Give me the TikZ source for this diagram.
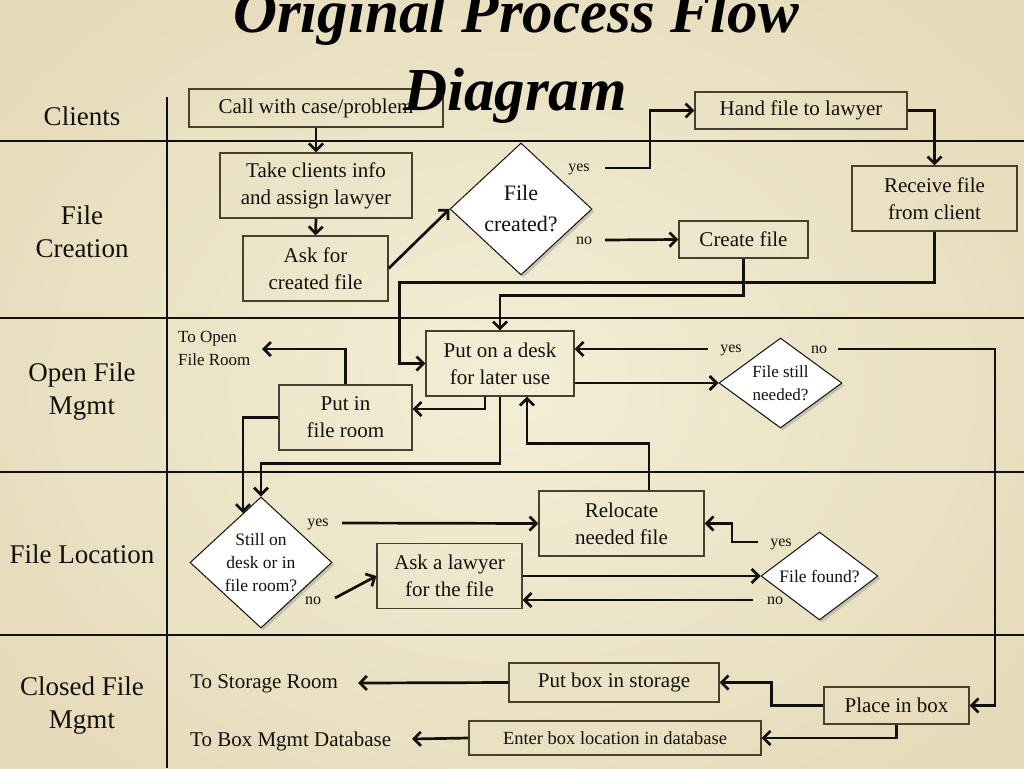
\documentclass[tikz,border=0pt]{standalone}
\usepackage{fontspec}
\setmainfont{Liberation Serif}
\usetikzlibrary{arrows.meta,shapes.geometric,shadows,calc}
\definecolor{paper}{RGB}{243,238,214}
\definecolor{paperdark}{RGB}{230,219,186}
\definecolor{ink}{RGB}{18,16,12}
\definecolor{boxline}{RGB}{72,64,46}
\begin{document}
\begin{tikzpicture}[x=1pt,y=-1pt,
  box/.style={draw=boxline, line width=1.2pt, inner sep=0pt, align=center,
    font=\fontsize{21}{27}\selectfont, text=ink},
  dia/.style={diamond, draw=ink, line width=1pt, fill=white, inner sep=0pt,
    drop shadow={shadow xshift=2.5pt, shadow yshift=-2.5pt, opacity=0.35}},
  dtext/.style={align=center, inner sep=0pt, text=ink},
  lanelabel/.style={align=center, font=\fontsize{27}{33}\selectfont, text=ink},
  laneline/.style={draw=ink, line width=2.8pt},
  conn/.style={draw=ink, line width=2.7pt, -{Straight Barb[length=7pt,width=14pt]}},
  lbl/.style={font=\fontsize{16}{18}\selectfont, text=ink, inner sep=0pt},
  side/.style={font=\fontsize{21}{24}\selectfont, text=ink, inner sep=0pt, anchor=west},
]
\useasboundingbox (0,0) rectangle (1024,768);
\clip (0,0) rectangle (1024,768);
\shade[inner color=paper, outer color=paperdark] (-120,-120) rectangle (1144,888);

% swimlane lines
\draw[laneline] (0,141) -- (1024,141);
\draw[laneline] (0,318) -- (1024,318);
\draw[laneline] (0,472) -- (1024,472);
\draw[laneline] (0,635) -- (1024,635);
\draw[laneline] (167,97) -- (167,768);

% lane labels
\node[lanelabel] (lclients) at (82,116) {Clients};
\node[lanelabel] (lcreation) at (82,232) {File\\Creation};
\node[lanelabel] (lopen) at (82,392) {Open File\\Mgmt};
\node[lanelabel] (llocation) at (82,554) {File Location};
\node[lanelabel] (lclosed) at (82,706) {Closed File\\Mgmt};

% boxes
\node[box, minimum width=254, minimum height=38] (call) at (316,108) {Call with case/problem};
\node[box, minimum width=192, minimum height=65] (take) at (316,185.5) {Take clients info\\and assign lawyer};
\node[box, minimum width=145, minimum height=65] (ask) at (315.5,268.5) {Ask for\\created file};
\node[box, minimum width=212, minimum height=37] (hand) at (801,110.5) {Hand file to lawyer};
\node[box, minimum width=165, minimum height=65] (receive) at (934.5,198.5) {Receive file\\from client};
\node[box, minimum width=129, minimum height=37] (create) at (743.5,239.5) {Create file};
\node[box, minimum width=148, minimum height=65] (desk) at (500,363.5) {Put on a desk\\for later use};
\node[box, minimum width=133, minimum height=65] (fileroom) at (345.5,417.5) {Put in\\file room};
\node[box, minimum width=165, minimum height=65] (relocate) at (621.5,523.5) {Relocate\\needed file};
\node[box, minimum width=145, minimum height=65] (asklaw) at (449.5,576) {Ask a lawyer\\for the file};
\node[box, minimum width=210, minimum height=39] (putbox) at (614,682.5) {Put box in storage};
\node[box, minimum width=145, minimum height=37] (placebox) at (896.5,705.5) {Place in box};
\node[box, minimum width=292, minimum height=34, font=\fontsize{18.5}{22}\selectfont] (enterbox) at (615,738) {Enter box location in database};

% diamonds
\node[dia, minimum width=142, minimum height=132] (dcreated) at (521,209) {};
\node[dtext, font=\fontsize{22}{31}\selectfont] (tcreated) at (dcreated.center) {File\\created?};
\node[dia, minimum width=123, minimum height=90] (dneeded) at (780.5,383) {};
\node[dtext, font=\fontsize{17}{23}\selectfont] (tneeded) at (dneeded.center) {File still\\needed?};
\node[dia, minimum width=142, minimum height=131] (dstill) at (261,562.5) {};
\node[dtext, font=\fontsize{17.5}{23}\selectfont] (tstill) at (dstill.center) {Still on\\desk or in\\file room?};
\node[dia, minimum width=117, minimum height=88] (dfound) at (819.5,576) {};
\node[dtext, font=\fontsize{17.5}{20}\selectfont] (tfound) at (dfound.center) {File found?};

% free texts
\node[lbl, align=left, anchor=west, font=\fontsize{17}{23}\selectfont] (toopen) at (178,348) {To Open\\File Room};
\node[side] (tostorage) at (190,684) {To Storage Room};
\node[side] (tobox) at (190,741) {To Box Mgmt Database};

% yes / no labels
\node[lbl] (yA) at (579,169) {yes};
\node[lbl] (nA) at (584,241) {no};
\node[lbl] (yB) at (731,350) {yes};
\node[lbl] (nB) at (819,350) {no};
\node[lbl] (yC) at (318,524) {yes};
\node[lbl] (nC) at (313,601) {no};
\node[lbl] (yD) at (781,544) {yes};
\node[lbl] (nD) at (775,601) {no};

% free connector ends
\coordinate (yesA) at (605,168);
\coordinate (noA) at (605,240);
\coordinate (yesB) at (708,349);
\coordinate (noB) at (838,349);
\coordinate (yesC) at (342,523);
\coordinate (noC) at (335,598);
\coordinate (yesD) at (758,542);
\coordinate (noD) at (753,600);
\coordinate (openpt) at (262,349);
\coordinate (storagept) at (358,683);
\coordinate (boxpt) at (412,739);

% connectors
\draw[conn] (call.south) -- (take.north);
\draw[conn] (take.south) -- (ask.north);
\draw[conn] (ask.east) -- (dcreated.west);
\draw[conn] (yesA) -- ++(45,0) |- (hand.west);
\draw[conn] (hand.east) -| (receive.north);
\draw[conn] (noA) -- (create.west);
\draw[conn] (create.south) -- ++(0,37) -| (desk.north);
\draw[conn] (receive.south) -- ++(0,51) -| ($(desk.west)+(-26,0)$) -- (desk.west);
\draw[conn] ($(desk.south)+(-15,0)$) |- ($(fileroom.east)+(0,-8.5)$);
\draw[conn] (fileroom.north) |- (openpt);
\draw[conn] (fileroom.west) -| (dstill.110);
\draw[conn] (desk.south) -- ++(0,67) -| (dstill.north);
\draw[conn] ($(relocate.north)+(27.5,0)$) -- ++(0,-47) -| ($(desk.south)+(27,0)$);
\draw[conn] ($(desk.east)+(0,19.5)$) -- (dneeded.west);
\draw[conn] (yesB) -- ($(desk.east)+(0,-14.5)$);
\draw[conn] (noB) -- ++(157,0) |- (placebox.east);
\draw[conn] (yesC) -- (relocate.west);
\draw[conn] (noC) -- (asklaw.west);
\draw[conn] (asklaw.east) -- (dfound.west);
\draw[conn] (noD) -- ($(asklaw.east)+(0,24)$);
\draw[conn] (yesD) -- ++(-26,0) |- (relocate.east);
\draw[conn] (placebox.west) -- ++(-52,0) |- (putbox.east);
\draw[conn] (placebox.south) |- (enterbox.east);
\draw[conn] (putbox.west) -- (storagept);
\draw[conn] (enterbox.west) -- (boxpt);

% title
\node[font=\fontsize{61}{70}\selectfont\bfseries\itshape, text=black, anchor=base] (title1) at (516,33) {Original Process Flow};
\node[font=\fontsize{61}{70}\selectfont\bfseries\itshape, text=black, anchor=base] (title2) at (515,110) {Diagram};
\end{tikzpicture}
\end{document}
